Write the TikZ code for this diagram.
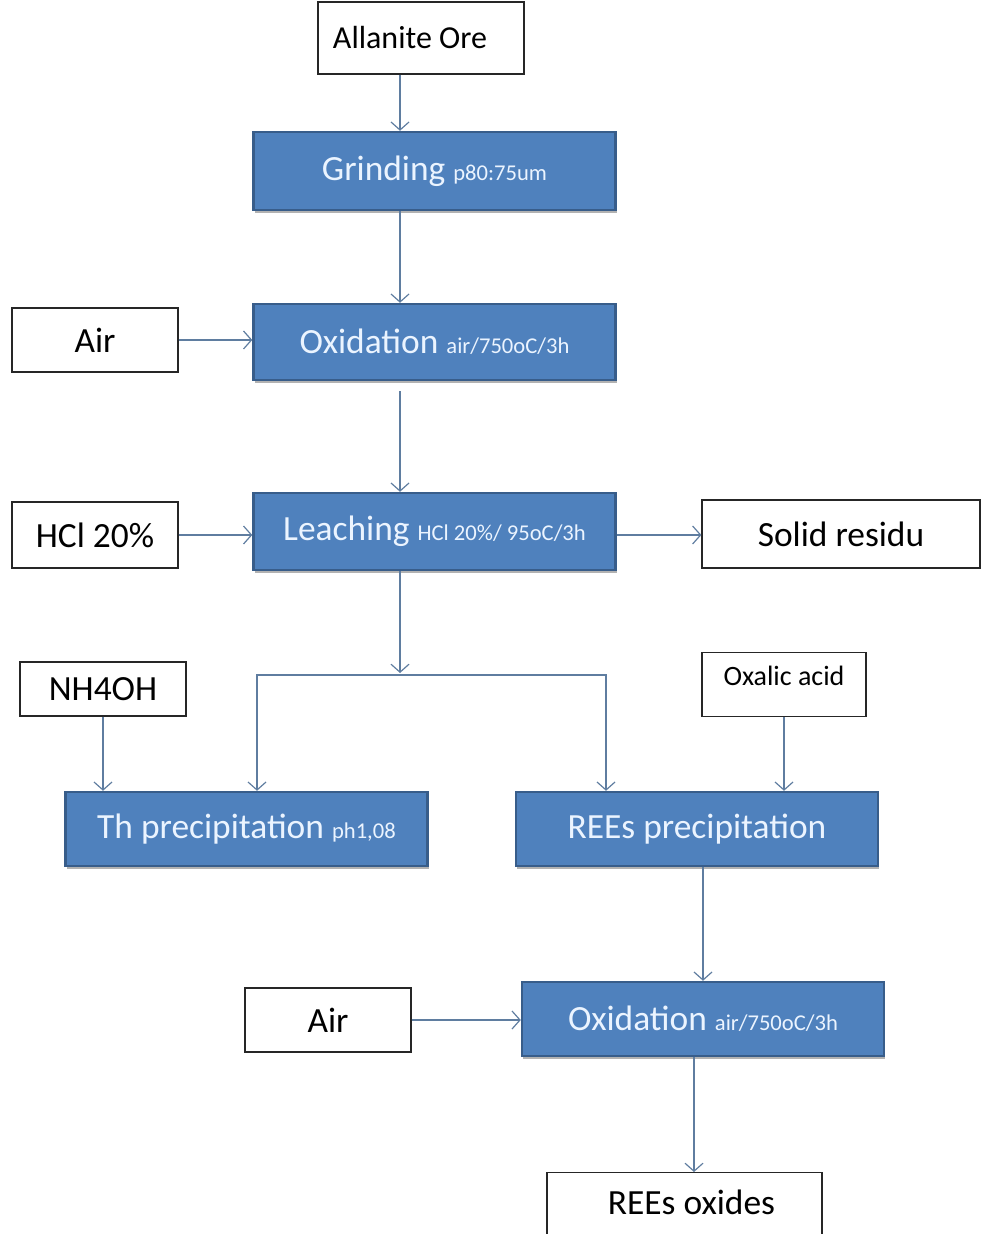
\documentclass[tikz,border=0pt]{standalone}
\usepackage{fontspec}
\setmainfont{Carlito}
\usetikzlibrary{arrows.meta,shadows}
\definecolor{procblue}{RGB}{79,129,189}
\definecolor{procedge}{RGB}{56,93,138}
\definecolor{flowgray}{RGB}{95,125,160}
\definecolor{proctext}{RGB}{235,244,255}
\newcommand{\condtxt}{\fontsize{11.3}{13}\selectfont}
\begin{document}
\begin{tikzpicture}[
x=0.5pt,y=-0.5pt,
procbox/.style={
draw=procedge,
fill=procblue,
line width=1.2pt,
rectangle,
text=proctext,
minimum width=181pt,
minimum height=38pt,
drop shadow={shadow xshift=0.6pt,shadow yshift=-1.4pt,fill=black!60},
font=\fontsize{17.7}{20}\selectfont},
inbox/.style={
draw=black!85,
fill=white,
line width=0.6pt,
rectangle,
minimum width=83pt,
minimum height=32pt,
font=\fontsize{17.7}{20}\selectfont},
flow/.style={
draw=flowgray,
line width=0.6pt,
-{Straight Barb[length=4pt,width=9pt]}}
]
\useasboundingbox (0,0) rectangle (982,1234);

\coordinate (spine) at (400,0);
\coordinate (lcol) at (257,0);
\coordinate (rcol) at (606,0);
\coordinate (oxcol) at (694,0);
\coordinate (split) at (400,675);

\node[inbox,minimum width=103pt,minimum height=36pt,font=\fontsize{16}{19}\selectfont] (ore) at (421,38) {\hspace*{-11pt}Allanite Ore};
\node[procbox,minimum height=39pt] (grind) at (434.5,171) {Grinding {\condtxt p80:75um}};
\node[inbox] (air1) at (95,340) {Air};
\node[procbox] (ox1) at (434.5,342) {Oxidation {\condtxt air/750oC/3h}};
\node[inbox,minimum height=33pt] (hcl) at (95,535) {HCl 20\%};
\node[procbox,minimum height=38.5pt] (leach) at (434.5,531.5) {Leaching {\condtxt HCl 20\%/ 95oC/3h}};
\node[inbox,minimum width=139pt,minimum height=34pt] (solid) at (841,534) {Solid residu};
\node[inbox,minimum height=27pt] (nh4) at (103,689) {NH4OH};
\node[inbox,minimum width=82pt,font=\fontsize{14}{16}\selectfont,anchor=north] (oxalic) at (784,652) {\raisebox{9pt}{Oxalic acid}};
\node[procbox,minimum height=37pt] (th) at (246.5,829) {Th precipitation {\condtxt ph1,08}};
\node[procbox,minimum height=37pt] (rees) at (697,829) {REEs precipitation};
\node[inbox] (air2) at (328,1020) {Air};
\node[procbox,minimum height=37pt] (ox2) at (703,1019) {Oxidation {\condtxt air/750oC/3h}};
\node[inbox,minimum width=137.5pt,minimum height=38pt,anchor=north] (oxides) at (684.5,1172) {\raisebox{8pt}{REEs oxides}\hspace*{-7pt}};

\draw[flow] (ore.south -| spine) -- (grind.north -| spine);
\draw[flow] (grind.south -| spine) -- (ox1.north -| spine);
\draw[flow] (air1.east) -- (ox1.west |- air1.east);
\draw[flow] ([yshift=-5pt]ox1.south -| spine) -- (leach.north -| spine);
\draw[flow] (hcl.east) -- (leach.west |- hcl.east);
\draw[flow] (leach.east |- hcl.east) -- (solid.west |- hcl.east);
\draw[flow] (leach.south -| spine) -- ([yshift=1pt]split);
\draw[flow] (split) -| (th.north -| lcol);
\draw[flow] (split) -| (rees.north -| rcol);
\draw[flow] (nh4.south) -- (th.north -| nh4.south);
\draw[flow] (oxalic.south) -- (rees.north -| oxalic.south);
\draw[flow] (rees.south -| ox2.north) -- (ox2.north);
\draw[flow] (air2.east) -- (ox2.west |- air2.east);
\draw[flow] (ox2.south -| oxcol) -- (oxides.north -| oxcol);

\end{tikzpicture}
\end{document}
